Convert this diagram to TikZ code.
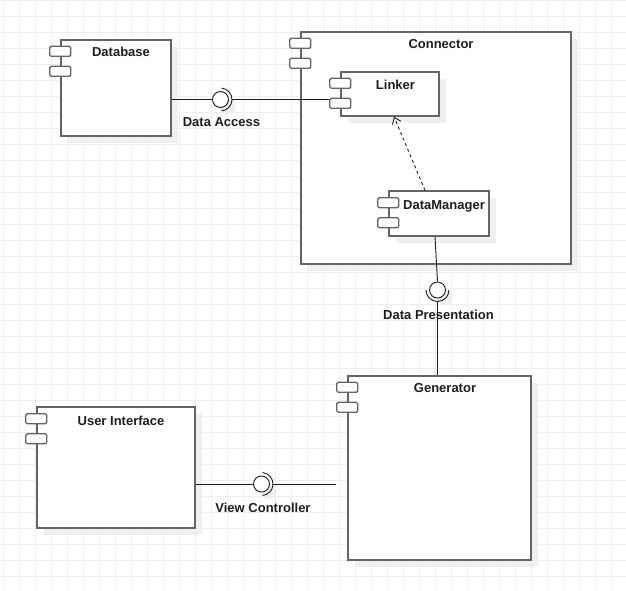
\documentclass[tikz,border=0pt]{standalone}
\usepackage{fontspec}
\setmainfont{Liberation Sans}
\usetikzlibrary{calc,shadows,arrows.meta}

\definecolor{gridline}{HTML}{EEEEEE}
\definecolor{edge}{HTML}{646464}
\definecolor{shade}{HTML}{EFEFEF}
\definecolor{ink}{HTML}{1E1E1E}

\tikzset{
  comp/.style={draw=edge, line width=1.4pt, fill=white, inner sep=0pt, rectangle,
    drop shadow={shadow xshift=7pt, shadow yshift=-7pt, fill=shade, opacity=1}},
  port/.style={draw=edge, line width=1.3pt, fill=white, inner sep=0pt, rectangle,
    rounded corners=1.5pt, minimum width=21pt, minimum height=10pt},
  lbl/.style={font=\fontsize{13}{15}\selectfont\bfseries, text=ink, inner sep=0pt, text depth=0pt},
  ball/.style={circle, draw=ink, line width=0.9pt, fill=white, minimum size=16pt, inner sep=0pt,
    drop shadow={shadow xshift=7pt, shadow yshift=-7pt, fill=shade, opacity=1}},
  wire/.style={draw=ink, line width=0.9pt},
}

\begin{document}
\begin{tikzpicture}[x=1pt,y=-1pt]
\useasboundingbox (0,0) rectangle (626,590);
\fill[white] (0,0) rectangle (626,590);

% background grid
\foreach \k in {0,...,36} \draw[gridline, line width=1pt] (0,16*\k) -- (626,16*\k);
\foreach \k in {0,...,38} \draw[gridline, line width=1pt] (3.5+16*\k,0) -- (3.5+16*\k,590);

% Database
\node[comp, minimum width=110pt, minimum height=96pt] (db) at (116,88) {};
\node[port] (db-p1) at ($(db.north west)+(0,12)$) {};
\node[port] (db-p2) at ($(db.north west)+(0,32)$) {};
\node[lbl] (db-t) at (121,52) {Database};

% Connector with its inner parts
\node[comp, minimum width=270pt, minimum height=232pt] (cn) at (436,148) {};
\node[port] (cn-p1) at ($(cn.north west)+(0,12)$) {};
\node[port] (cn-p2) at ($(cn.north west)+(0,32)$) {};
\node[lbl] (cn-t) at (441,44) {Connector};

\node[comp, minimum width=98pt, minimum height=44pt] (lk) at (390,94) {};
\node[port] (lk-p1) at ($(lk.north west)+(0,12)$) {};
\node[port] (lk-p2) at ($(lk.north west)+(0,32)$) {};
\node[lbl] (lk-t) at (395.5,85) {Linker};

\node[comp, minimum width=100pt, minimum height=45pt] (dm) at (439,213.5) {};
\node[port] (dm-p1) at ($(dm.north west)+(0,12.5)$) {};
\node[port] (dm-p2) at ($(dm.north west)+(0,32.5)$) {};
\node[lbl] (dm-t) at (444,205) {DataManager};

% Generator
\node[comp, minimum width=183pt, minimum height=184pt] (gen) at (439.5,468) {};
\node[port] (gen-p1) at ($(gen.north west)+(0,12)$) {};
\node[port] (gen-p2) at ($(gen.north west)+(0,32)$) {};
\node[lbl] (gen-t) at (445,388) {Generator};

% User Interface
\node[comp, minimum width=158pt, minimum height=121pt] (ui) at (116,467.5) {};
\node[port] (ui-p1) at ($(ui.north west)+(0,12.5)$) {};
\node[port] (ui-p2) at ($(ui.north west)+(0,32.5)$) {};
\node[lbl] (ui-t) at (121,421) {User Interface};

% provided interfaces (balls)
\node[ball] (da) at (220.5,99.5) {};
\node[ball] (dp) at (437.5,290) {};
\node[ball] (vc) at (261.5,484) {};

% sockets of the required interfaces
\coordinate (da-s) at ($(da.center)+(11.5,0)$);
\coordinate (dp-s) at ($(dp.center)+(0,11.5)$);
\coordinate (vc-s) at ($(vc.center)+(11.5,0)$);
\draw[wire] (da.center) ++(-85:11.5) arc[start angle=-85, end angle=85, radius=11.5];
\draw[wire] (dp.center) ++(0:11.5) arc[start angle=0, end angle=180, radius=11.5];
\draw[wire] (vc.center) ++(-85:11.5) arc[start angle=-85, end angle=85, radius=11.5];

% connectors
\draw[wire] (db.east |- da.west) -- (da.west);
\draw[wire] (da-s) -- (da-s -| lk-p2.west);
\draw[wire] ($(dm.south)+(-4,0)$) -- (dp.north);
\draw[wire] (dp-s) -- (dp-s |- gen.north);
\draw[wire] (ui.east |- vc.west) -- (vc.west);
\draw[wire] (vc-s) -- (vc-s -| gen-p1.west);

% dependency DataManager -> Linker
\draw[wire, dash pattern=on 3pt off 3pt, -{Straight Barb[length=6pt,width=9pt]}]
  ($(dm.north)+(-14,0)$) -- ($(lk.south)+(4,0)$);

% interface labels
\node[lbl] (da-t) at (221.5,122.5) {Data Access};
\node[lbl] (dp-t) at (438.5,315) {Data Presentation};
\node[lbl] (vc-t) at (263,507.5) {View Controller};
\end{tikzpicture}
\end{document}
